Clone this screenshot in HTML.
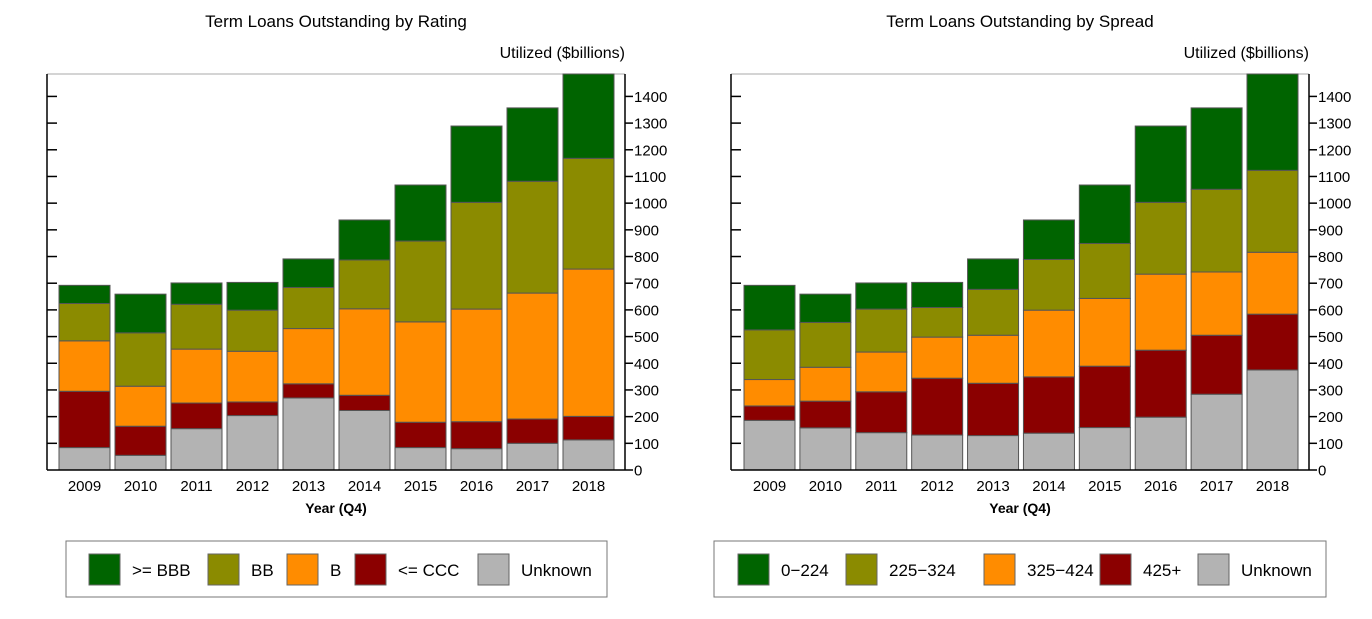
<!DOCTYPE html>
<html><head><meta charset="utf-8"><style>
body{margin:0;background:#fff;}
svg{display:block;font-family:"Liberation Sans",Arial,sans-serif;}
</style></head><body>
<svg id="svg" width="1372" height="619" viewBox="0 0 1372 619" xmlns="http://www.w3.org/2000/svg"></svg>
<script>
const years = ["2009","2010","2011","2012","2013","2014","2015","2016","2017","2018"];
const yTicks = [0,100,200,300,400,500,600,700,800,900,1000,1100,1200,1300,1400];
// Rating chart (bottom to top)
const ratingUnknown = [84,55,155,204,270,223,84,80,100,113];
const ratingCCC = [211,109,96,51,53,57,95,101,91,88];
const ratingB = [189,150,202,190,207,324,376,422,472,552];
const ratingBB = [140,200,168,154,154,183,303,400,419,415];
const ratingBBB = [68,145,80,104,107,150,210,286,275,322];
// Spread chart (bottom to top)
const spreadUnknown = [186,158,140,131,129,138,159,198,284,375];
const spread425 = [54,100,153,213,196,211,230,251,221,209];
const spread325 = [99,127,149,154,180,250,254,285,237,232];
const spread225 = [186,168,161,111,172,190,206,269,310,307];
const spread0 = [167,106,98,94,114,148,219,286,305,367];

const NS="http://www.w3.org/2000/svg";
const svg=document.getElementById('svg');
function mk(tag,attrs,parent){const e=document.createElementNS(NS,tag);for(const k in attrs)e.setAttribute(k,attrs[k]);(parent||svg).appendChild(e);return e;}
function txt(s,attrs,parent){const e=mk('text',attrs,parent);e.textContent=s;return e;}

const Y0=470, YMAX=1484, YTOP=74;
function yScale(v){return Y0-(v/YMAX)*(Y0-YTOP);}

function chart(cfg){
  const g=mk('g',{});
  
  
  const L=cfg.left,R=cfg.right;
  const t=txt(cfg.title,{x:(L+R)/2,y:27,'text-anchor':'middle','font-size':17,fill:'#000'},g);
  
  
  const u=txt('Utilized ($billions)',{x:R,y:58,'text-anchor':'end','font-size':16,fill:'#000'},g);
  
  
  // frame
  const top=mk('line',{x1:L,y1:YTOP,x2:R,y2:YTOP,stroke:'#aaa','stroke-width':1},g);
  
  
  // bars
  const step=(cfg.lastX-cfg.firstX)/(years.length-1);
  const bw=51;
  years.forEach((yr,i)=>{
    let cum=0;
    const x=cfg.firstX+i*step;
    cfg.series.forEach(s=>{
      const v=s.values[i];
      const y1=yScale(cum+v), y2=yScale(cum);
      const yy=Math.max(y1,YTOP);
      const r=mk('rect',{x:x,y:yy,width:bw,height:Math.max(0,y2-yy),fill:s.color,stroke:'#555','stroke-width':1},g);
      
      
      cum+=v;
    });
    const xl=txt(yr,{x:x+bw/2,y:491,'text-anchor':'middle','font-size':15,fill:'#000'},g);
    
    
  });
  // axes
  const ax=mk('line',{x1:L,y1:Y0,x2:R,y2:Y0,stroke:'#000','stroke-width':1.5},g);
  
  
  const la=mk('line',{x1:L,y1:YTOP,x2:L,y2:Y0,stroke:'#000','stroke-width':1.5},g);
  
  
  const ra=mk('line',{x1:R,y1:YTOP,x2:R,y2:Y0,stroke:'#000','stroke-width':1.5},g);
  
  
  yTicks.forEach(v=>{
    const y=yScale(v);
    if(v>0){
      const t1=mk('line',{x1:L,y1:y,x2:L+10,y2:y,stroke:'#000','stroke-width':1.5},g);
      
      
    }
    const t2=mk('line',{x1:R,y1:y,x2:R+8,y2:y,stroke:'#000','stroke-width':1.5},g);
    
    
    const tl=txt(String(v),{x:R+9,y:y+5.5,'font-size':15,fill:'#000'},g);
    
    
  });
  const xt=txt('Year (Q4)',{x:(L+R)/2,y:513,'text-anchor':'middle','font-size':14,'font-weight':'bold',fill:'#000'},g);
  
  
  // legend
  const lb=mk('rect',{x:cfg.legX,y:541,width:cfg.legW,height:56,fill:'#fff',stroke:'#777','stroke-width':1},g);
  
  
  const order=cfg.series.slice().reverse();
  order.forEach((s,k)=>{
    const sw=mk('rect',{x:cfg.legSw[k],y:554,width:31,height:31,fill:s.color,stroke:'#666','stroke-width':1},g);
    
    
    const lt=txt(s.label,{x:cfg.legSw[k]+43,y:576,'font-size':17,fill:'#000'},g);
    
    
  });
}

chart({name:'rating-chart',title:'Term Loans Outstanding by Rating',left:47,right:625,firstX:59,lastX:563,
  legX:66,legW:541,legSw:[89,208,287,355,478],
  series:[
    {key:'unknown',label:'Unknown',color:'#b3b3b3',values:ratingUnknown},
    {key:'ccc',label:'<= CCC',color:'#8b0000',values:ratingCCC},
    {key:'b',label:'B',color:'#ff8c00',values:ratingB},
    {key:'bb',label:'BB',color:'#8b8b00',values:ratingBB},
    {key:'bbb',label:'>= BBB',color:'#006400',values:ratingBBB}
  ]});
chart({name:'spread-chart',title:'Term Loans Outstanding by Spread',left:731,right:1309,firstX:744,lastX:1247,
  legX:714,legW:612,legSw:[738,846,984,1100,1198],
  series:[
    {key:'unknown',label:'Unknown',color:'#b3b3b3',values:spreadUnknown},
    {key:'s425',label:'425+',color:'#8b0000',values:spread425},
    {key:'s325',label:'325\u2212424',color:'#ff8c00',values:spread325},
    {key:'s225',label:'225\u2212324',color:'#8b8b00',values:spread225},
    {key:'s0',label:'0\u2212224',color:'#006400',values:spread0}
  ]});
</script>
</body></html>
